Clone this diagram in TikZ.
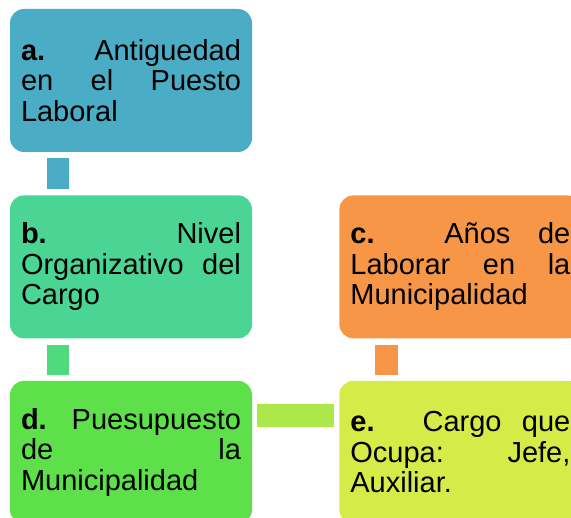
\documentclass[tikz,border=0pt]{standalone}
\usepackage{fontspec}
\setmainfont{Liberation Sans}
\usetikzlibrary{positioning}

\definecolor{boxA}{HTML}{4BACC6}
\definecolor{boxB}{HTML}{4AD594}
\definecolor{boxC}{HTML}{F79646}
\definecolor{boxD}{HTML}{5EE04A}
\definecolor{boxE}{HTML}{D4EB48}
\definecolor{linkBD}{HTML}{4FDB7D}
\definecolor{linkDE}{HTML}{ACE84A}

\begin{document}
\begin{tikzpicture}[x=1pt,y=-1pt,
    item/.style={rectangle, rounded corners=14pt, minimum width=242pt,
      minimum height=143pt, text width=220pt, align=justify, inner sep=0pt,
      font=\fontsize{29}{30.5}\selectfont}]
    % Frame (boxes on the right are cut at the edge)
    \clip (0,0) rectangle (571,518);

    % Boxes
    \node[item, fill=boxA] (a) at (131,80.5)
      {\textbf{a.} Antiguedad\linebreak en el Puesto\linebreak Laboral};
    \node[item, fill=boxB, below=43pt of a] (b)
      {\textbf{b.} Nivel\linebreak Organizativo del\linebreak Cargo};
    \node[item, fill=boxC, right=87pt of b] (c)
      {\textbf{c.} Años de\linebreak Laborar en la\linebreak Municipalidad};
    \node[item, fill=boxD, below=42pt of b] (d)
      {\textbf{d.} Puesupuesto\linebreak de la\linebreak Municipalidad};
    \node[item, fill=boxE, right=87pt of d] (e)
      {\textbf{e.} Cargo que\linebreak Ocupa: Jefe,\linebreak Auxiliar.};

    % Links between boxes
    \fill[boxA] ([xshift=37pt,yshift=-6pt]a.south west) rectangle ([xshift=59pt,yshift=6pt]b.north west);
    \fill[linkBD] ([xshift=37pt,yshift=-6pt]b.south west) rectangle ([xshift=59pt,yshift=6pt]d.north west);
    \fill[boxC] ([xshift=36pt,yshift=-6pt]c.south west) rectangle ([xshift=59pt,yshift=6pt]e.north west);
    \fill[linkDE] ([xshift=5pt,yshift=-23pt]d.north east) rectangle ([xshift=-5pt,yshift=-46pt]e.north west);
\end{tikzpicture}
\end{document}
